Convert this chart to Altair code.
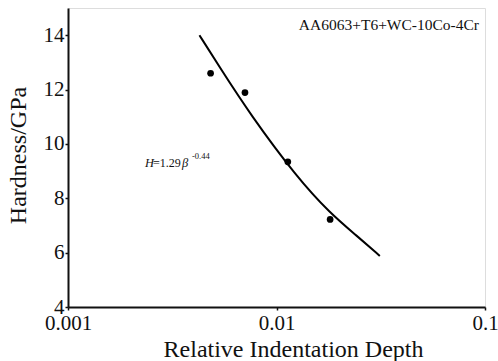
import altair as alt
import pandas as pd

# measured data points
depth = [0.00483, 0.00706, 0.01133, 0.01808]
hardness = [12.6, 11.89, 9.34, 7.22]

# fitted curve
curve_depth = [0.00427, 0.00536, 0.00746, 0.0125, 0.01808, 0.02427, 0.0313]
curve_hard = [14.0, 12.8, 11.1, 8.78, 7.45, 6.62, 5.88]

x_ticks = [0.001, 0.01, 0.1]
y_ticks = [4, 6, 8, 10, 12, 14]

FONT = "Liberation Serif"

pts = pd.DataFrame({"d": depth, "h": hardness})
crv = pd.DataFrame({"d": curve_depth, "h": curve_hard})

xscale = alt.Scale(type="log", domain=[0.001, 0.1], nice=False)
yscale = alt.Scale(domain=[4, 15], nice=False, zero=False)

xaxis = alt.Axis(
    title="Relative Indentation Depth", values=x_ticks, format=".3~f",
    labelFont=FONT, labelFontSize=21, labelColor="#111", labelPadding=2,
    labelFlush=False, labelOverlap=False, labelBound=False,
    tickSize=3, tickColor="#111", tickWidth=1.5, grid=False,
    domainColor="#111", domainWidth=2,
    titleFont=FONT, titleFontSize=24, titleFontWeight="normal", titleColor="#111",
    titleX=225, titleY=49, titleAlign="center", titleBaseline="alphabetic",
)
yaxis = alt.Axis(
    title="Hardness/GPa", values=y_ticks,
    labelFont=FONT, labelFontSize=21, labelColor="#111", labelPadding=1,
    labelOverlap=False, labelBound=False, labelFlush=False,
    tickSize=3, tickColor="#111", tickWidth=1.5, grid=False,
    domainColor="#111", domainWidth=2,
    titleFont=FONT, titleFontSize=24, titleFontWeight="normal", titleColor="#111",
    titleAngle=270, titleX=-43, titleY=147, titleAlign="center", titleBaseline="alphabetic",
)

X = alt.X("d:Q", scale=xscale, axis=xaxis)
Y = alt.Y("h:Q", scale=yscale, axis=yaxis)

line = alt.Chart(crv).mark_line(color="black", strokeWidth=2, interpolate="basis").encode(x=X, y=Y)
points = alt.Chart(pts).mark_circle(color="black", size=45, opacity=1).encode(x=X, y=Y)

def txt(text, x, y, size, style="normal", align="left"):
    return alt.Chart(pd.DataFrame({"t": [text]})).mark_text(
        font=FONT, fontSize=size, fontStyle=style, align=align,
        baseline="alphabetic", color="#111",
    ).encode(text="t:N", x=alt.value(x), y=alt.value(y))

label = txt("AA6063+T6+WC-10Co-4Cr", 411, 22, 15.5, align="right")
eq1 = txt("H", 77, 159, 12.5, "italic")
eq2 = txt("=1.29", 85, 159, 12)
eq3 = txt("β", 114, 159, 12.5, "italic")
eq4 = txt("-0.44", 124, 151, 8.5)

chart = alt.layer(line, points, label, eq1, eq2, eq3, eq4).properties(
    width=417, height=299,
    padding={"left": 68, "top": 8, "right": 13, "bottom": 54},
    autosize=alt.AutoSizeParams(type="none"),
).configure_view(stroke="#111", strokeWidth=2).configure_axis(
    labelFont=FONT, titleFont=FONT
).configure_text(font=FONT).configure(background="white")

chart.save("out.html", embed_options={"renderer": "svg", "actions": False})
